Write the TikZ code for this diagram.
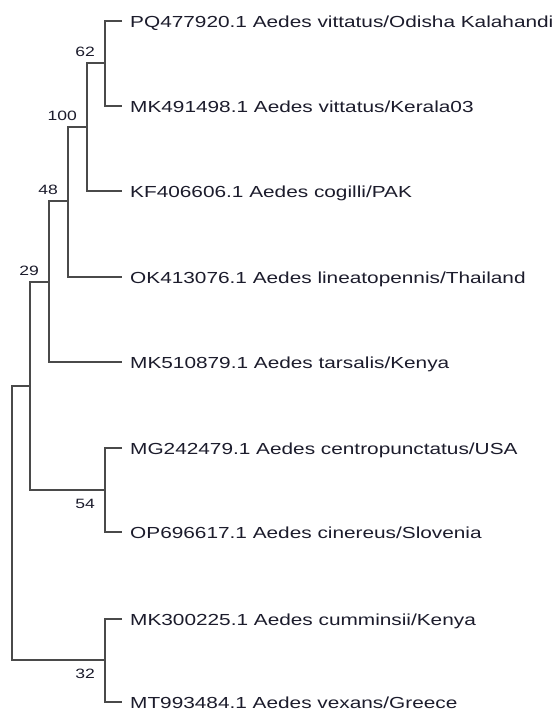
\documentclass[tikz,border=0pt]{standalone}
\usepackage{fontspec}
\setmainfont{Liberation Sans}
\newfontfamily\treefont[FakeStretch=1.3]{Liberation Sans}
\usepackage{tikz}
\usetikzlibrary{positioning}
\definecolor{branchgray}{HTML}{4A4A4A}
\definecolor{labelink}{HTML}{1C1C2C}

\begin{document}
\begin{tikzpicture}[x=1pt, y=-1pt,
  branch/.style={draw=branchgray, line width=1.1pt},
  leaf/.style={anchor=west, inner xsep=8pt, inner ysep=0pt, text height=13pt, text depth=0pt, text=labelink, font=\treefont\fontsize{16}{18}\selectfont},
  boot/.style={inner sep=0pt, text height=9pt, text depth=0pt, text=labelink, font=\treefont\fontsize{13.5}{15}\selectfont}]
  \useasboundingbox[fill=white] (0,0) rectangle (556,711);
  \node[leaf] (t1) at (122,21) {PQ477920.1 Aedes vittatus/Odisha Kalahandi};
  \node[leaf] (t2) at (122,106) {MK491498.1 Aedes vittatus/Kerala03};
  \node[leaf] (t3) at (122,191) {KF406606.1 Aedes cogilli/PAK};
  \node[leaf] (t4) at (122,277) {OK413076.1 Aedes lineatopennis/Thailand};
  \node[leaf] (t5) at (122,362) {MK510879.1 Aedes tarsalis/Kenya};
  \node[leaf] (t6) at (122,448) {MG242479.1 Aedes centropunctatus/USA};
  \node[leaf] (t7) at (122,532) {OP696617.1 Aedes cinereus/Slovenia};
  \node[leaf] (t8) at (122,619) {MK300225.1 Aedes cumminsii/Kenya};
  \node[leaf] (t9) at (122,702) {MT993484.1 Aedes vexans/Greece};
  \coordinate (n62) at (105,63);
  \coordinate (n100) at (87,127);
  \coordinate (n48) at (68,201);
  \coordinate (n29) at (49,282);
  \coordinate (n54) at (105,490);
  \coordinate (nin) at (30,386);
  \coordinate (n32) at (105,660);
  \coordinate (root) at (12,523);
  \draw[branch] (t1.west) -| (n62) |- (t2.west);
  \draw[branch] (n62) -| (n100) |- (t3.west);
  \draw[branch] (n100) -| (n48) |- (t4.west);
  \draw[branch] (n48) -| (n29) |- (t5.west);
  \draw[branch] (t6.west) -| (n54) |- (t7.west);
  \draw[branch] (n29) -| (nin) |- (n54);
  \draw[branch] (t8.west) -| (n32) |- (t9.west);
  \draw[branch] (nin) -| (root) |- (n32);
  \node[boot, above left=6pt and 10pt of n62] (b62) {62};
  \node[boot, above left=6pt and 10pt of n100] (b100) {100};
  \node[boot, above left=6pt and 10pt of n48] (b48) {48};
  \node[boot, above left=6pt and 10pt of n29] (b29) {29};
  \node[boot, below left=9pt and 10pt of n54] (b54) {54};
  \node[boot, below left=9pt and 10pt of n32] (b32) {32};
\end{tikzpicture}
\end{document}
